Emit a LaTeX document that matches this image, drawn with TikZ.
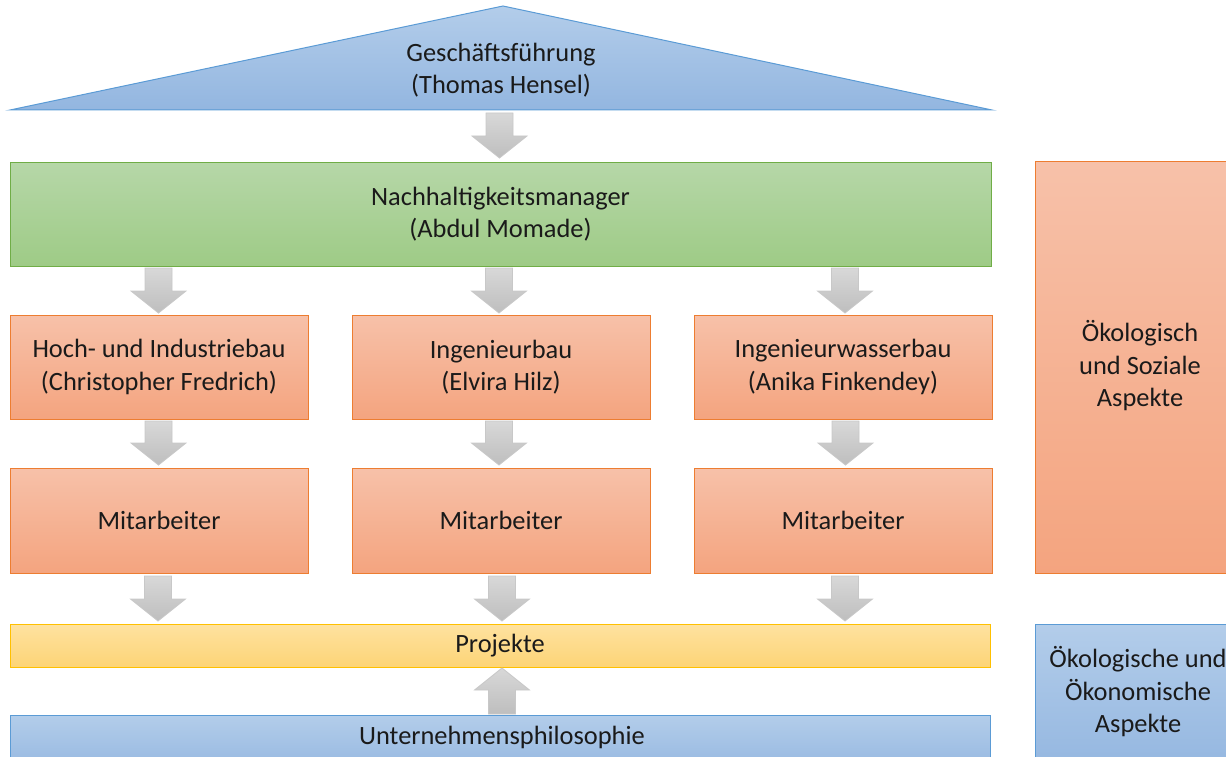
\documentclass[tikz,border=0pt]{standalone}
\usepackage{fontspec}
\setmainfont{Carlito}
\definecolor{cBlueT}{HTML}{B3CDEA}
\definecolor{cBlueB}{HTML}{93B6E0}
\definecolor{cBlueD}{HTML}{5B9BD5}
\definecolor{cGreenT}{HTML}{B6D7A8}
\definecolor{cGreenB}{HTML}{9ECB86}
\definecolor{cGreenD}{HTML}{70AD47}
\definecolor{cOrT}{HTML}{F7C1A9}
\definecolor{cOrB}{HTML}{F4A47F}
\definecolor{cOrD}{HTML}{ED7D31}
\definecolor{cYeT}{HTML}{FEE2A0}
\definecolor{cYeB}{HTML}{FDD476}
\definecolor{cYeD}{HTML}{FFC000}
\definecolor{cArT}{HTML}{D8D8D8}
\definecolor{cArB}{HTML}{BEBEBE}
\definecolor{cArD}{HTML}{C8C8C8}
\definecolor{cTxt}{HTML}{1A1A1A}
\newcommand\blockdown[4]{% x, top, bottom, name
  \path[garrow] (#1-13.5,#2) -- (#1+13.5,#2) -- (#1+13.5,#3-22) -- (#1+27.5,#3-22)
    -- (#1,#3) -- (#1-27.5,#3-22) -- (#1-13.5,#3-22) -- cycle;
  \coordinate (#4) at (#1,#3);}
\newcommand\blockup[4]{% x, bottom, tip, name
  \path[garrow] (#1-13.5,#2) -- (#1+13.5,#2) -- (#1+13.5,#3+22) -- (#1+27.5,#3+22)
    -- (#1,#3) -- (#1-27.5,#3+22) -- (#1-13.5,#3+22) -- cycle;
  \coordinate (#4) at (#1,#3);}
\begin{document}
\begin{tikzpicture}[x=1pt,y=-1pt,
  font=\fontsize{26.4}{32.5}\selectfont,
  box/.style={line width=1pt, inner sep=0pt, outer sep=0pt, align=center, text=cTxt},
  bluebox/.style={box, draw=cBlueD, top color=cBlueT, bottom color=cBlueB},
  greenbox/.style={box, draw=cGreenD, top color=cGreenT, bottom color=cGreenB},
  orbox/.style={box, draw=cOrD, top color=cOrT, bottom color=cOrB, minimum width=298, minimum height=104},
  yebox/.style={box, draw=cYeD, top color=cYeT, bottom color=cYeB},
  garrow/.style={draw=cArD, line width=0.8pt, top color=cArT, bottom color=cArB}]
\useasboundingbox (0,0) rectangle (1226,757);
\clip (0,0) rectangle (1226,757);

% roof
\path[draw=cBlueD, line width=1pt, top color=cBlueT, bottom color=cBlueB]
  (10,110) -- (503,6) -- (992,110) -- cycle;
\node[box] (gf) at (501,70) {Geschäftsführung\\(Thomas Hensel)};

% sustainability manager
\node[greenbox, minimum width=981, minimum height=104] (nm) at (500.5,214)
  {Nachhaltigkeitsmanager\\(Abdul Momade)};

% departments
\node[orbox] (d1) at (159,367) {Hoch- und Industriebau\\(Christopher Fredrich)};
\node[orbox] (d2) at (501,367) {Ingenieurbau\\(Elvira Hilz)};
\node[orbox] (d3) at (843,367) {Ingenieurwasserbau\\(Anika Finkendey)};

% employees
\node[orbox, minimum height=105] (m1) at (159,520.5) {Mitarbeiter};
\node[orbox, minimum height=105] (m2) at (501,520.5) {Mitarbeiter};
\node[orbox, minimum height=105] (m3) at (843,520.5) {Mitarbeiter};

% projects
\node[yebox, minimum width=980, minimum height=43] (pr) at (500,645.5) {Projekte};

% philosophy
\node[bluebox, minimum width=980, minimum height=60, anchor=north] (up) at (500,715) {};
\node[box] (upt) at (502,737) {Unternehmensphilosophie};

% right side boxes
\node[box, draw=cOrD, top color=cOrT, bottom color=cOrB, minimum width=200, minimum height=412, anchor=north west] (oes) at (1035,161) {};
\node[box] at (1140,366) {Ökologisch\\und Soziale\\Aspekte};
\node[bluebox, minimum width=200, minimum height=150, anchor=north west] (oeo) at (1035,624) {};
\node[box] at (1138,692) {Ökologische und\\Ökonomische\\Aspekte};

% arrows
\blockdown{499.5}{113}{158}{a0}
\blockdown{158.5}{268}{313}{a1}
\blockdown{499}{268}{313}{a2}
\blockdown{845}{268}{313}{a3}
\blockdown{158.5}{421}{465}{b1}
\blockdown{499}{421}{465}{b2}
\blockdown{845.5}{421}{465}{b3}
\blockdown{158}{576}{621}{c1}
\blockdown{502}{576}{621}{c2}
\blockdown{845}{576}{621}{c3}
\blockup{502}{714}{668}{u1}
\end{tikzpicture}
\end{document}
